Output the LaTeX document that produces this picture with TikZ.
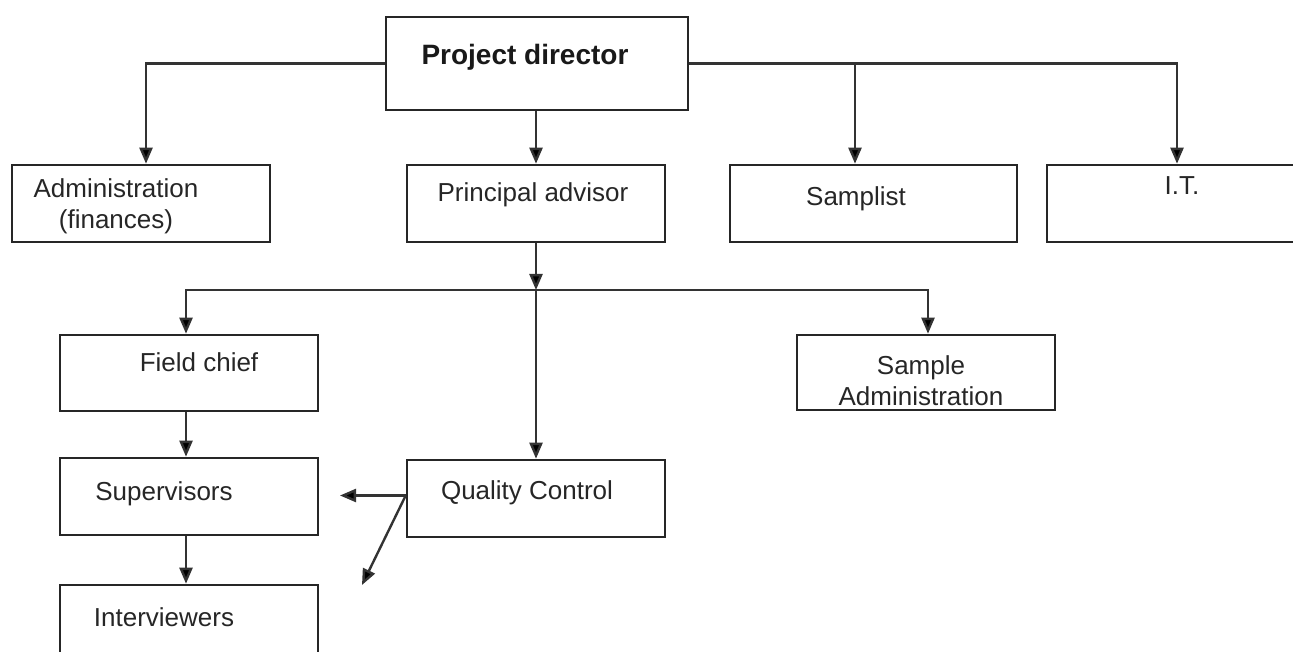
\documentclass[tikz,border=0pt]{standalone}
\usepackage{fontspec}
\setmainfont{Liberation Sans}
\usetikzlibrary{arrows.meta}
\begin{document}
\begin{tikzpicture}[x=1pt,y=-1pt,
  box/.style={draw=black!85, line width=2.6pt, rectangle, inner sep=0pt, minimum width=258pt, minimum height=77pt},
  conn/.style={draw=black!80, line width=2.4pt, -{Triangle[length=16pt,width=13pt,fill=black]}},
  lab/.style={font=\fontsize{26}{31}\selectfont, text=black!85, inner sep=0pt, align=center},
  blab/.style={font=\bfseries\fontsize{28}{33}\selectfont, text=black!90, inner sep=0pt}]
\useasboundingbox (0,0) rectangle (1293,652);
\clip (0,0) rectangle (1293,652);
% boxes
\node[box, minimum width=302pt, minimum height=93pt] (pd) at (537,63.5) {};
\node[box] (adm) at (141,203.5) {};
\node[box] (pa) at (536,203.5) {};
\node[box, minimum width=287pt] (sam) at (873.5,203.5) {};
\node[box, minimum width=253pt] (it) at (1173.5,203.5) {};
\node[box, minimum height=76pt] (fc) at (189,373) {};
\node[box, minimum height=75pt] (sa) at (926,372.5) {};
\node[box] (sup) at (189,496.5) {};
\node[box] (qc) at (536,498.5) {};
\node[box, minimum height=90pt] (int) at (189,630) {};
% texts
\node[blab] (tpd) at (525,57) {Project director};
\node[lab] (tadm) at (116,206) {Administration\\(finances)};
\node[lab] (tpa) at (533,195) {Principal advisor};
\node[lab] (tsam) at (856,199) {Samplist};
\node[lab] (tit) at (1182,186) {I.T.};
\node[lab] (tfc) at (199,362) {Field chief};
\node[lab] (tsa) at (921,381) {Sample\\Administration};
\node[lab] (tsup) at (164,494) {Supervisors};
\node[lab] (tqc) at (527,493) {Quality Control};
\node[lab] (tint) at (164,617) {Interviewers};
% connectors
\coordinate (jn) at (536,290);
\coordinate (qcl) at (340,495.5);
\coordinate (qcd) at (362,585);
\draw[conn] (pd.west) -| ([xshift=5pt]adm.north);
\draw[conn] (pa.north |- pd.south) -- (pa.north);
\draw[conn] (pd.east) -| ([xshift=-18.5pt]sam.north);
\draw[conn] (pd.east) -| ([xshift=3.5pt]it.north);
\draw[conn] (pa.south) -- (jn);
\draw[conn] (jn) -- (qc.north);
\draw[conn] (jn) -| ([xshift=-3pt]fc.north);
\draw[conn] (jn) -| ([xshift=2pt]sa.north);
\draw[conn] ([xshift=-3pt]fc.south) -- ([xshift=-3pt]sup.north);
\draw[conn] ([xshift=-3pt]sup.south) -- ([xshift=-3pt]int.north);
\draw[conn] ([yshift=3pt]qc.west) -- (qcl);
\draw[conn] ([yshift=3pt]qc.west) -- (qcd);
\end{tikzpicture}
\end{document}
